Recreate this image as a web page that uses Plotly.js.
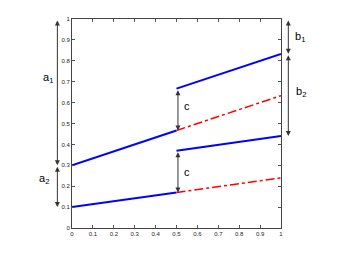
<!DOCTYPE html>
<html><head><meta charset="utf-8">
<script src="https://cdn.plot.ly/plotly-3.0.1.min.js"></script>
<style>html,body{margin:0;padding:0;background:#fff}#chart{width:342px;height:257px}</style>
</head><body><div id="chart"></div>
<script>
// Segment x ranges
const xLeft = [0, 0.5];
const xRight = [0.5, 1];
// Upper curve (values)
const upperLeft = [0.3, 0.4667];
const upperJump = [0.6667, 0.8333];
const upperCont = [0.4667, 0.6333];
// Lower curve (values)
const lowerLeft = [0.1, 0.17];
const lowerJump = [0.37, 0.44];
const lowerCont = [0.17, 0.24];
// Tick labels
const tickVals = [0, 0.1, 0.2, 0.3, 0.4, 0.5, 0.6, 0.7, 0.8, 0.9, 1];
const tickText = ['0', '0.1', '0.2', '0.3', '0.4', '0.5', '0.6', '0.7', '0.8', '0.9', '1'];
// Dimension arrows: [x, yFrom, yTo, label]
const arrowA1 = [-0.07, 1, 0.3, 'a<sub>1</sub>'];
const arrowA2 = [-0.07, 0.3, 0.1, 'a<sub>2</sub>'];
const arrowB1 = [1.035, 1, 0.8333, 'b<sub>1</sub>'];
const arrowB2 = [1.035, 0.8333, 0.44, 'b<sub>2</sub>'];
const arrowC1 = [0.507, 0.6667, 0.4667, 'c'];
const arrowC2 = [0.507, 0.37, 0.17, 'c'];
// Label positions [x, y]
const labelPos = [[-0.115, 0.72], [-0.136, 0.235], [1.09, 0.915], [1.095, 0.65], [0.55, 0.585], [0.55, 0.27]];

const blue = {color: '#0000ff', width: 2};
const red = {color: '#ff0000', width: 1.5, dash: 'dashdot'};
const traces = [
  {x: xLeft, y: upperLeft, line: blue},
  {x: xRight, y: upperJump, line: blue},
  {x: xRight, y: upperCont, line: red},
  {x: xLeft, y: lowerLeft, line: blue},
  {x: xRight, y: lowerJump, line: blue},
  {x: xRight, y: lowerCont, line: red}
].map(t => Object.assign({type: 'scatter', mode: 'lines', hoverinfo: 'skip'}, t));

const arrows = [arrowA1, arrowA2, arrowB1, arrowB2, arrowC1, arrowC2];
const annotations = [];
arrows.forEach((a, i) => {
  annotations.push({
    x: a[0], y: a[2], ax: 0, ay: a[1], xref: 'paper', yref: 'y', axref: 'pixel', ayref: 'y',
    showarrow: true, arrowside: 'end+start', arrowhead: 2, arrowsize: 1, arrowwidth: 1,
    arrowcolor: '#333', standoff: 0, startstandoff: 0, text: ''
  });
  annotations.push({
    x: labelPos[i][0], y: labelPos[i][1], xref: 'paper', yref: 'y', showarrow: false,
    xanchor: 'center', yanchor: 'middle',
    text: a[3], font: {family: 'Liberation Sans, Arial, sans-serif', size: 11, color: '#000'}
  });
});

const axisCommon = {
  range: [0, 1], tickvals: tickVals, ticktext: tickText, ticks: 'inside', ticklen: 3,
  tickcolor: '#555', showline: true, linecolor: '#444', linewidth: 1, mirror: 'ticks',
  showgrid: false, zeroline: false, tickfont: {family: 'Liberation Sans, Arial, sans-serif', size: 6, color: '#222'}
};

Plotly.newPlot('chart', traces, {
  width: 342, height: 257, showlegend: false,
  margin: {l: 72, r: 61, t: 19, b: 29},
  paper_bgcolor: '#fff', plot_bgcolor: '#fff',
  xaxis: Object.assign({}, axisCommon),
  yaxis: Object.assign({}, axisCommon),
  annotations: annotations
}, {staticPlot: true});
</script></body></html>
